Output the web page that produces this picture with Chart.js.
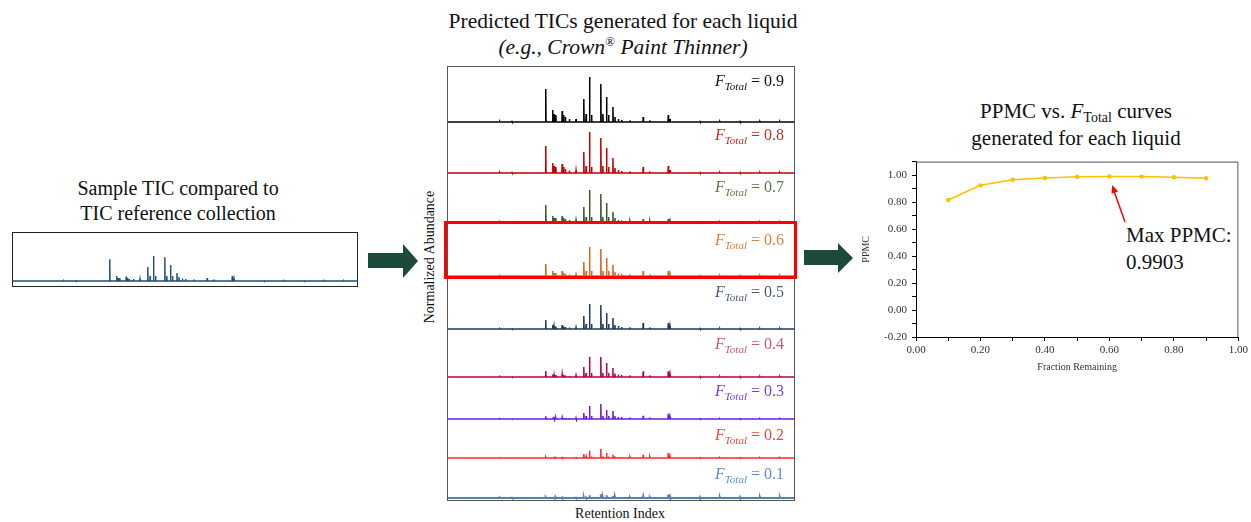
<!DOCTYPE html>
<html>
<head>
<meta charset="utf-8">
<script src="https://cdn.jsdelivr.net/npm/chart.js@4.4.1/dist/chart.umd.min.js"></script>
<style>
    body { margin: 0; background: #fff; }
    #page { position: relative; width: 1251px; height: 522px; overflow: hidden; font-family: 'Liberation Serif', 'Times New Roman', serif; color: #111; }
    .abs { position: absolute; }
    .titulo { position: absolute; font-size: 20px; line-height: 25px; text-align: center; white-space: nowrap; }
    .flabel { position: absolute; font-size: 16px; line-height: 20px; text-align: right; white-space: nowrap; }
    .flabel .sub { font-size: 11px; font-style: italic; position: relative; top: 4px; }
    canvas { position: absolute; }
</style>
</head>
<body>
<div id="page">
    <!-- titulos -->
    <div class="titulo" style="left:28px; width:300px; top:176px;">Sample TIC compared to<br>TIC reference collection</div>
    <div class="titulo" style="left:423px; width:400px; top:8px; font-size:21.5px; line-height:26px;">Predicted TICs generated for each liquid<br><i>(e.g., Crown<span style="font-size:13px; position:relative; top:-8px; line-height:0;">®</span> Paint Thinner)</i></div>
    <div class="titulo" style="left:946px; width:260px; top:99px; font-size:21px; line-height:24px;">PPMC vs. <i>F</i><span style="font-size:14px; position:relative; top:4px;">Total</span> curves<br>generated for each liquid</div>

    <div class="abs" style="left:330px; top:249px; width:200px; font-size:14px; text-align:center; transform:rotate(-90deg); white-space:nowrap;">Normalized Abundance</div>
    <div class="abs" style="left:520px; top:506px; width:200px; font-size:14px; text-align:center;">Retention Index</div>

    <div class="abs" style="left:1126px; top:222px; font-size:21px; line-height:27px;">Max PPMC:<br>0.9903</div>

    <!-- caixas -->
    <div class="abs" id="box-sample" style="left:12px; top:232px; width:346px; height:55px; border:1px solid #222; box-sizing:border-box;"></div>
    <div id="painel"></div>
    <div class="abs" style="left:447px; top:66px; width:348px; height:435px; border:1px solid #555; box-sizing:border-box; pointer-events:none;"></div>
    <div class="abs" style="left:444px; top:221px; width:353px; height:58px; border:3px solid #ff0000; box-sizing:border-box;"></div>

    <canvas id="ppmc-chart" width="391" height="230" style="left:860px; top:150px;"></canvas>

    <!-- setas -->
    <svg class="abs" style="left:0; top:0;" width="1251" height="522">
        <polygon points="368,253 403,253 403,244 418,261 403,278 403,268 368,268" fill="#1d4a3c"/>
        <polygon points="804,250 838,250 838,243 853,258 838,273 838,265 804,265" fill="#1d4a3c"/>
        <line x1="1125" y1="222" x2="1114" y2="191" stroke="#ff0000" stroke-width="1.5"/>
        <polygon points="1112.3,185 1118.1,191.5 1111.5,193.7" fill="#ff0000"/>
    </svg>
</div>

<script>
// ========================================
// Dados
// ========================================

// posições dos picos (índice de retenção)
const retentionIndex = [880, 922, 1039, 1063, 1068, 1074, 1096, 1101, 1107, 1121, 1144, 1171, 1179, 1191, 1198, 1230, 1237, 1250, 1257, 1272, 1279, 1291, 1302, 1331, 1377, 1400, 1464, 1470, 1574, 1643, 1713, 1782, 1851];

// amostra (painel da esquerda)
const sampleTic = [0.3, 0.3, 21.7, 5, 3, 3, 4.5, 3, 2, 2, 2, 14, 5, 25, 5, 23.7, 5, 16, 5, 8, 4, 2.5, 2, 1.5, 3, 1.5, 5, 2, 0.3, 0.3, 0.3, 0.3, 0.3];

// TICs previstos, um por F_Total
const tic09 = [0.5, 0.5, 33, 12, 8, 7, 11, 7, 5, 3, 3, 23, 8, 45, 7, 38, 8, 25, 7, 15, 5, 3, 2, 1.5, 5, 1.5, 7, 3, 0.5, 0.5, 0.5, 0.5, 0.5];
const tic08 = [0.5, 0.5, 27, 10, 7, 6, 9, 6, 4, 2.5, 2.5, 21, 7, 41, 6, 35, 7, 25, 6, 15, 5, 3, 2, 1.5, 6, 1.5, 7, 3, 0.5, 0.5, 0.5, 0.5, 0.5];
const tic07 = [0.3, 0.3, 17, 6, 4, 4, 6, 4, 3, 2, 2, 15, 5, 32, 5, 28, 5, 19, 5, 10, 4, 2, 1.5, 1, 3, 1, 3, 1.5, 0.3, 0.3, 0.3, 0.3, 0.3];
const tic06 = [0.3, 0.3, 12, 5, 3, 3, 5, 3, 2, 1.5, 1.5, 14, 5, 29, 5, 27, 5, 18, 5, 11, 4, 2.5, 2, 1.5, 5, 1.5, 5, 2, 0.5, 0.5, 0.5, 0.5, 0.5];
const tic05 = [0.3, 0.3, 9, 4, 2.5, 2.5, 4, 2.5, 2, 1.5, 1.5, 13, 5, 25, 5, 24, 5, 16, 5, 11, 4, 3, 2, 1.5, 6, 1.5, 6, 2.5, 0.5, 0.5, 0.5, 0.5, 0.5];
const tic04 = [0.3, 0.3, 6, 2.5, 2, 2, 2.7, 2, 1.5, 1, 1.5, 10, 4, 20, 4, 20, 4, 14, 4, 9, 3.5, 2.5, 2, 1.5, 5.7, 1.5, 5.7, 2.5, 0.5, 0.5, 0.5, 0.5, 0.5];
const tic03 = [0.2, 0.2, 2.7, 1.5, 1, 1, 1.5, 1, 1, 1, 1, 6, 3, 13, 3, 15, 3, 9, 3, 8, 3, 2, 2, 1.5, 3.3, 1.5, 5.3, 2, 0.3, 0.3, 0.3, 0.3, 0.3];
const tic02 = [0.1, 0.1, 0.7, 0.5, 0.3, 0.3, 0.5, 0.3, 0.3, 0.3, 0.3, 4, 1.5, 7.3, 1.5, 9.3, 1.5, 5, 1.5, 3.3, 1.5, 1, 1, 0.8, 3.3, 1, 5, 1.5, 0.3, 0.3, 0.3, 0.3, 0.3];
const tic01 = [0.3, 0.3, 0.5, 0.5, 0.3, 0.5, 0.5, 0.3, 0.3, 0.3, 0.3, 1, 0.5, 2.7, 0.8, 3.7, 1, 2.7, 1, 2, 1, 0.8, 0.8, 0.5, 1.5, 0.5, 3.3, 1.2, 0.8, 0.8, 0.8, 0.8, 0.8];

const fTotals = [0.9, 0.8, 0.7, 0.6, 0.5, 0.4, 0.3, 0.2, 0.1];
const ticsPorPainel = [tic09, tic08, tic07, tic06, tic05, tic04, tic03, tic02, tic01];

// curva PPMC vs F_Total
const fractionRemaining = [0.1, 0.2, 0.3, 0.4, 0.5, 0.6, 0.7, 0.8, 0.9];
const ppmcValues = [0.815, 0.924, 0.965, 0.979, 0.988, 0.9903, 0.989, 0.984, 0.977];

// ========================================
// Estilos / layout
// ========================================
const corTraco = ['#000000', '#c00000', '#3d5a24', '#d06a1e', '#22385f', '#b8004a', '#6a1de0', '#ff2a2a', '#4f81bd'];
const corRotulo = ['#111111', '#cc2a2a', '#5a7a45', '#d98545', '#4a5b7c', '#d0557e', '#7a3fe0', '#f04848', '#5b8ed0'];
const painelTopo = [66, 122, 173, 222, 276, 329, 377, 419, 458];
const painelBase = [122, 173, 222, 276, 329, 377, 419, 458, 498];
const rotuloCentro = [82, 136, 188, 241, 293, 345, 392, 436, 475];

const RI_MIN = 700, RI_MAX = 1900;
const MEIA_LARGURA = 1.0;
const SERIF = "'Liberation Serif', 'Times New Roman', serif";

function montarTraco(alturas) {
    const pts = [{x: RI_MIN, y: 0}];
    alturas.forEach((h, i) => {
        const ri = retentionIndex[i];
        pts.push({x: ri - MEIA_LARGURA, y: 0}, {x: ri, y: h}, {x: ri + MEIA_LARGURA, y: 0});
    });
    pts.push({x: RI_MAX, y: 0});
    return pts;
}

function graficoTic(canvas, alturas, cor, yMax, espessura) {
    return new Chart(canvas.getContext('2d'), {
        type: 'line',
        data: {
            datasets: [{
                data: montarTraco(alturas),
                borderColor: cor,
                borderWidth: espessura,
                borderJoinStyle: 'miter',
                pointRadius: 0,
                tension: 0,
                fill: false,
                clip: 3
            }]
        },
        options: {
            responsive: false,
            animation: false,
            layout: { padding: { top: 0, bottom: 3, left: 0, right: 0 } },
            plugins: { legend: { display: false }, tooltip: { enabled: false } },
            scales: {
                x: { type: 'linear', min: RI_MIN, max: RI_MAX, display: false },
                y: { min: 0, max: yMax, display: false }
            }
        }
    });
}

// painel da esquerda
(function () {
    const c = document.createElement('canvas');
    c.width = 346; c.height = 281 - 232 + 3;
    c.style.left = '12px'; c.style.top = '232px';
    document.getElementById('page').appendChild(c);
    graficoTic(c, sampleTic, '#1f4e79', 281 - 232, 1.4);
})();

// painéis do meio
const page = document.getElementById('page');
const painelDiv = document.getElementById('painel');
ticsPorPainel.forEach((alturas, i) => {
    const h = painelBase[i] - painelTopo[i];
    const c = document.createElement('canvas');
    c.width = 346; c.height = h + 3;
    c.style.left = '448px'; c.style.top = painelTopo[i] + 'px';
    painelDiv.appendChild(c);
    graficoTic(c, alturas, corTraco[i], h, i === 8 ? 2 : 1.5);

    const lab = document.createElement('div');
    lab.className = 'flabel';
    lab.style.right = (1251 - 784) + 'px';
    lab.style.top = (rotuloCentro[i] - 11) + 'px';
    lab.style.color = corRotulo[i];
    lab.innerHTML = `<i>F</i><span class="sub">Total</span> = ${fTotals[i].toFixed(1)}`;
    page.appendChild(lab);
});

// moldura superior/direita do gráfico PPMC
const molduraPlugin = {
    id: 'moldura',
    afterDraw(chart) {
        const {ctx, chartArea: a} = chart;
        ctx.save();
        ctx.strokeStyle = '#555';
        ctx.lineWidth = 1;
        ctx.beginPath();
        ctx.moveTo(a.left, a.top + 0.5);
        ctx.lineTo(a.right - 0.5, a.top + 0.5);
        ctx.lineTo(a.right - 0.5, a.bottom);
        ctx.stroke();
        ctx.restore();
    }
};

function rotuloPar(v) {
    const k = Math.round(v * 10);
    return k % 2 === 0 ? (k / 10).toFixed(2) : '';
}

new Chart(document.getElementById('ppmc-chart').getContext('2d'), {
    type: 'line',
    data: {
        datasets: [{
            data: fractionRemaining.map((f, i) => ({x: f, y: ppmcValues[i]})),
            borderColor: '#FFC000',
            backgroundColor: '#FFC000',
            borderWidth: 1.5,
            pointRadius: 2.2,
            pointBorderWidth: 0,
            tension: 0
        }]
    },
    options: {
        responsive: false,
        animation: false,
        layout: { padding: { top: 11, right: 11, left: 0, bottom: 0 } },
        plugins: { legend: { display: false }, tooltip: { enabled: false } },
        scales: {
            x: {
                type: 'linear', min: 0, max: 1,
                ticks: { stepSize: 0.1, autoSkip: false, maxRotation: 0, padding: 3, color: '#333', font: { family: SERIF, size: 11 }, callback: rotuloPar },
                grid: { drawOnChartArea: false, drawTicks: true, tickLength: 4, color: '#000' },
                border: { display: true, color: '#000', width: 1 },
                title: { display: true, text: 'Fraction Remaining', color: '#333', font: { family: SERIF, size: 10 }, padding: { top: 0, bottom: 7 } },
                afterFit(scale) { scale.height = 43; }
            },
            y: {
                min: -0.2, max: 1.1,
                ticks: { stepSize: 0.1, autoSkip: false, padding: 5, color: '#333', font: { family: SERIF, size: 11 }, callback: rotuloPar },
                grid: { drawOnChartArea: false, drawTicks: true, tickLength: 4, color: '#000' },
                border: { display: true, color: '#000', width: 1 },
                title: { display: true, text: 'PPMC', color: '#333', font: { family: SERIF, size: 10 }, padding: 0 },
                afterFit(scale) { scale.width = 56; }
            }
        }
    },
    plugins: [molduraPlugin]
});
</script>
</body>
</html>
